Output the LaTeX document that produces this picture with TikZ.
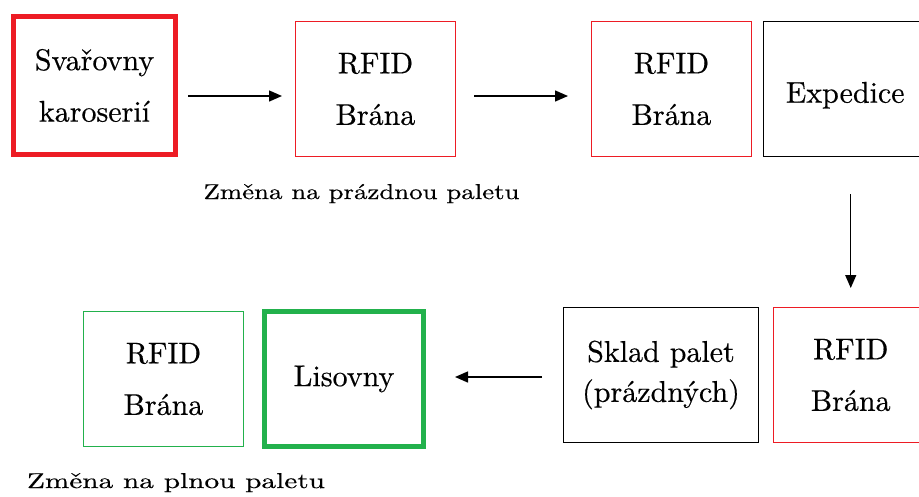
\documentclass[tikz,border=0pt]{standalone}
\usepackage{fontspec}
\newfontfamily\lmr{lmroman10-regular}[Extension=.otf, FakeBold=0.4]
\usepackage{graphicx}
\usetikzlibrary{arrows.meta}
\definecolor{bred}{RGB}{237,28,36}
\definecolor{bgreen}{RGB}{34,177,76}
\tikzset{
  box/.style={rectangle, inner sep=0pt, outer sep=0pt, align=center,
    font=\lmr\fontsize{30}{51.5}\selectfont},
  redthick/.style={box, draw=bred, line width=5.5pt},
  thinbox/.style={box},
  greenthick/.style={box, draw=bgreen, line width=5pt},
  blackbox/.style={box, draw=black, line width=1.8pt},
  thinedge/.style={line width=1.7pt, line join=miter},
  arr/.style={line width=1.4pt, -{Triangle[length=13pt,width=11pt]}},
  captext/.style={inner sep=0pt, font=\lmr\fontsize{21.5}{25}\selectfont},
}
\begin{document}
\begin{tikzpicture}[x=1pt,y=-1pt]
\useasboundingbox (0,0) rectangle (919,496);
\clip (0,0) rectangle (919,496);
\fill[white] (0,0) rectangle (919,496);
% top row
\node[redthick, minimum width=162pt, minimum height=138pt] (b1) at (94.5,85.5) {Svařovny\\karoserií};
\node[thinbox, minimum width=160pt, minimum height=135pt] (b2) at (375.5,89) {RFID\\Brána};
\node[thinbox, minimum width=160pt, minimum height=135pt] (b3) at (671.5,89) {RFID\\Brána};
\node[blackbox, minimum width=163.5pt, minimum height=135pt] (b4) at (845.25,89) {\raisebox{-13.7pt}[0pt][0pt]{Expedice}};
% bottom row
\node[thinbox, minimum width=154.5pt, minimum height=135pt] (b5) at (850.75,375) {RFID\\Brána};
\node[blackbox, minimum width=195pt, minimum height=135pt, font=\lmr\fontsize{30}{40}\selectfont] (b6) at (661,375) {Sklad palet\\(prázdných)};
\node[greenthick, minimum width=159pt, minimum height=135pt] (b7) at (344,379) {Lisovny};
\node[thinbox, minimum width=160pt, minimum height=135pt] (b8) at (163.5,379) {RFID\\Brána};
% thin outlines
\foreach \b/\c in {b2/bred, b3/bred, b5/bred, b8/bgreen}
  \draw[thinedge, draw=\c] (\b.south west) -- (\b.south east) -- (\b.north east) -- (\b.north west) -- cycle;
% captions
\node[captext, anchor=base] (c1) at (361.5,199) {\resizebox{316pt}{\height}{Změna na prázdnou paletu}};
\node[captext, anchor=base] (c2) at (176,488) {\resizebox{298pt}{\height}{Změna na plnou paletu}};
% arrows
\coordinate (a1) at ([yshift=-10.5pt]b1.east);
\draw[arr, shorten <=12.5pt, shorten >=13.5pt] (a1) -- (a1 -| b2.west);
\coordinate (a2) at ([yshift=-7pt]b2.east);
\draw[arr, shorten <=18.5pt, shorten >=23.5pt] (a2) -- (a2 -| b3.west);
\coordinate (a3) at (b4.south -| b5.north);
\draw[arr, shorten <=37.5pt, shorten >=19.5pt] (a3) -- (b5.north);
\coordinate (a4) at ([yshift=-2pt]b6.west);
\draw[arr, shorten <=21.5pt, shorten >=31.5pt] (a4) -- (a4 -| b7.east);
\end{tikzpicture}
\end{document}
